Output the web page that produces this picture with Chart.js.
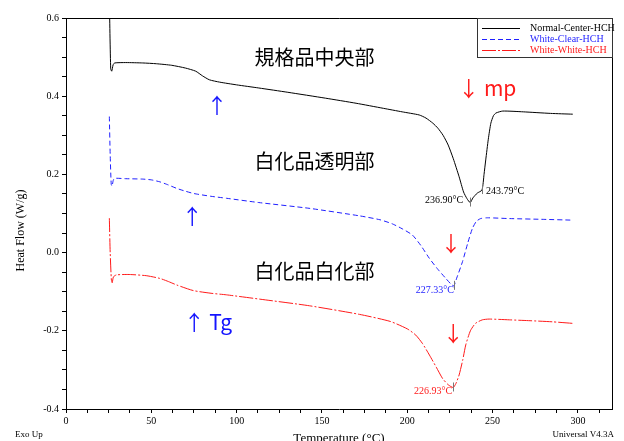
<!DOCTYPE html>
<html>
<head>
<meta charset="utf-8">
<script src="https://cdn.jsdelivr.net/npm/chart.js@4.4.1/dist/chart.umd.min.js"></script>
<style>
  html, body { margin: 0; padding: 0; background: #fff; }
  #wrap { width: 624px; height: 441px; }
</style>
</head>
<body>
<div id="wrap"><canvas id="dsc-chart" width="624" height="441"></canvas></div>
<script>
// Temperature (°C) / heat flow (W/g)
const normalTemp = [25.4, 26.2, 26.8, 27.6, 28.5, 35, 45, 53, 62, 70, 76, 80, 84, 90, 100, 113, 130, 152, 170, 186, 197, 207, 211, 215, 218, 221, 224, 227, 230.4, 233, 235, 236.9, 238.5, 241, 243.8, 245, 246, 247.5, 249, 250.5, 252, 256, 268, 284, 297];
const normalFlow = [0.65, 0.47, 0.464, 0.48, 0.485, 0.486, 0.485, 0.483, 0.479, 0.472, 0.464, 0.452, 0.442, 0.436, 0.429, 0.421, 0.41, 0.395, 0.382, 0.369, 0.36, 0.352, 0.344, 0.331, 0.318, 0.3, 0.275, 0.24, 0.194, 0.155, 0.138, 0.128, 0.14, 0.152, 0.16, 0.2, 0.237, 0.29, 0.331, 0.35, 0.357, 0.362, 0.36, 0.356, 0.354];

const clearTemp = [25.4, 25.9, 26.5, 27, 27.7, 28.5, 35, 45, 50, 55, 60, 65, 70, 75, 85, 94, 113, 143, 172, 184, 191, 197, 203, 208, 213, 218, 222.6, 225.5, 227.3, 229, 232.4, 235.5, 238.2, 240.5, 243, 247, 260, 280, 297];
const clearFlow = [0.348, 0.25, 0.175, 0.17, 0.185, 0.19, 0.189, 0.188, 0.186, 0.181, 0.173, 0.164, 0.157, 0.151, 0.144, 0.139, 0.128, 0.113, 0.094, 0.084, 0.074, 0.061, 0.045, 0.018, -0.015, -0.043, -0.066, -0.08, -0.085, -0.065, -0.023, 0.025, 0.062, 0.08, 0.087, 0.089, 0.087, 0.085, 0.083];

const whiteTemp = [25.4, 25.9, 26.6, 27.1, 27.8, 29.6, 37, 47, 55, 60, 65, 74.5, 85, 94, 113.5, 142.7, 172, 190, 200, 205, 209, 213, 217, 220.7, 224, 226.9, 228.5, 230.4, 232.5, 234.3, 237, 240, 244, 248, 260, 271, 285, 297];
const whiteFlow = [0.088, 0.0, -0.07, -0.077, -0.062, -0.057, -0.056, -0.059, -0.066, -0.074, -0.083, -0.097, -0.104, -0.108, -0.119, -0.136, -0.158, -0.176, -0.195, -0.211, -0.233, -0.262, -0.293, -0.322, -0.338, -0.345, -0.335, -0.313, -0.275, -0.236, -0.2, -0.181, -0.172, -0.17, -0.172, -0.174, -0.177, -0.181];

const seriesNames = ['Normal-Center-HCH', 'White-Clear-HCH', 'White-White-HCH'];
const seriesColors = ['#000000', '#1f1fff', '#ff1a1a'];

// axis ticks
const xTickLabels = [0, 50, 100, 150, 200, 250, 300];
const yTickLabels = [-0.4, -0.2, 0.0, 0.2, 0.4, 0.6];
const xMinorStep = 12.5;
const yMinorStep = 0.05;

// peak temperature labels
const peakTemps = [236.90, 243.79, 227.33, 226.93];
const peakFlows = [0.128, 0.160, -0.085, -0.345];
const peakColors = ['#000000', '#000000', '#1f1fff', '#ff1a1a'];

// sample names and arrows
const sampleTitles = ['規格品中央部', '白化品透明部', '白化品白化部'];
const sampleTitleTemps = [145.6, 145.6, 145.6];
const sampleTitleFlows = [0.499, 0.233, -0.047];

const tgArrows = ['↑', '↑', '↑ Tg'];
const tgArrowTemps = [88.5, 74, 71.3];
const tgArrowFlows = [0.378, 0.094, -0.178];

const mpArrows = ['↓ mp', '↓', '↓'];
const mpArrowTemps = [232.2, 225.6, 227];
const mpArrowFlows = [0.421, 0.025, -0.206];

function toPoints(xs, ys) {
    return xs.map((x, i) => ({ x: x, y: ys[i] }));
}

function stepTicks(min, max, step) {
    const out = [];
    for (let v = min; v <= max + 1e-9; v += step) out.push({ value: Math.round(v * 1000) / 1000 });
    return out;
}

const serif = '"Liberation Serif", "DejaVu Serif", serif';
const jpFont = '"Noto Sans CJK JP", "Noto Sans", sans-serif';

// arrow / text helper: single arrows are centred, "↑ Tg" style starts at the point
function drawArrowText(ctx, s, px, py) {
    ctx.textAlign = s.length > 1 ? 'left' : 'center';
    ctx.fillText(s, s.length > 1 ? px - 4 : px, py);
}

// extra drawing: frame, legend, annotations
const decorations = {
    id: 'decorations',
    afterDraw(chart) {
        const { ctx, chartArea: a, scales: { x, y } } = chart;
        ctx.save();

        // top and right frame
        ctx.strokeStyle = '#000';
        ctx.lineWidth = 1;
        ctx.beginPath();
        ctx.moveTo(a.left, a.top + 0.5);
        ctx.lineTo(a.right + 0.5, a.top + 0.5);
        ctx.lineTo(a.right + 0.5, a.bottom);
        ctx.stroke();

        // legend box in the top-right corner
        const lx = a.right - 135, ly = a.top;
        ctx.fillStyle = '#fff';
        ctx.fillRect(lx, ly, 135, 39);
        ctx.strokeStyle = '#333';
        ctx.strokeRect(lx + 0.5, ly + 0.5, 135, 39);
        chart.data.datasets.forEach((ds, i) => {
            const yy = ly + 10.5 + i * 11;
            ctx.strokeStyle = ds.borderColor;
            ctx.lineWidth = 1;
            ctx.setLineDash(ds.borderDash || []);
            ctx.beginPath();
            ctx.moveTo(lx + 5, yy);
            ctx.lineTo(lx + 43, yy);
            ctx.stroke();
            ctx.setLineDash([]);
            ctx.fillStyle = ds.borderColor;
            ctx.font = '10px ' + serif;
            ctx.textAlign = 'left';
            ctx.textBaseline = 'middle';
            ctx.fillText(ds.label, lx + 53, yy);
        });

        // peak markers and labels
        ctx.font = '10px ' + serif;
        ctx.textBaseline = 'middle';
        const offs = [[-7, -2, 'right'], [4, 1, 'left'], [0, 5, 'right'], [-1, 4, 'right']];
        peakTemps.forEach((t, i) => {
            const px = x.getPixelForValue(t), py = y.getPixelForValue(peakFlows[i]);
            ctx.strokeStyle = '#777';
            ctx.beginPath();
            ctx.moveTo(Math.round(px) + 0.5, py - 5);
            ctx.lineTo(Math.round(px) + 0.5, py + 4);
            ctx.stroke();
            ctx.fillStyle = peakColors[i];
            ctx.textAlign = offs[i][2];
            ctx.fillText(t.toFixed(2) + '°C', px + offs[i][0], py + offs[i][1]);
        });

        // sample titles
        ctx.fillStyle = '#000';
        ctx.font = '20px ' + jpFont;
        ctx.textAlign = 'center';
        sampleTitles.forEach((s, i) => {
            ctx.fillText(s, x.getPixelForValue(sampleTitleTemps[i]), y.getPixelForValue(sampleTitleFlows[i]));
        });

        // Tg arrows (blue), mp arrows (red)
        ctx.font = '21px ' + jpFont;
        ctx.fillStyle = '#1414ff';
        tgArrows.forEach((s, i) => {
            drawArrowText(ctx, s, x.getPixelForValue(tgArrowTemps[i]), y.getPixelForValue(tgArrowFlows[i]));
        });
        ctx.fillStyle = '#ff1a1a';
        mpArrows.forEach((s, i) => {
            drawArrowText(ctx, s, x.getPixelForValue(mpArrowTemps[i]), y.getPixelForValue(mpArrowFlows[i]));
        });

        // axis titles and footer text
        ctx.fillStyle = '#000';
        ctx.font = '13px ' + serif;
        ctx.textAlign = 'center';
        ctx.textBaseline = 'top';
        ctx.fillText('Temperature (°C)', (a.left + a.right) / 2, a.bottom + 23);
        ctx.font = '9px ' + serif;
        ctx.textAlign = 'left';
        ctx.textBaseline = 'middle';
        ctx.fillText('Exo Up', 15, a.bottom + 26);
        ctx.textAlign = 'right';
        ctx.fillText('Universal V4.3A', a.right + 2, a.bottom + 26);

        ctx.save();
        ctx.translate(21, (a.top + a.bottom) / 2 + 17);
        ctx.rotate(-Math.PI / 2);
        ctx.font = '12px ' + serif;
        ctx.textAlign = 'center';
        ctx.textBaseline = 'middle';
        ctx.fillText('Heat Flow (W/g)', 0, 0);
        ctx.restore();

        ctx.restore();
    }
};

new Chart(document.getElementById('dsc-chart').getContext('2d'), {
    type: 'line',
    data: {
        datasets: [{
            label: seriesNames[0],
            data: toPoints(normalTemp, normalFlow),
            borderColor: seriesColors[0],
            borderWidth: 1,
            pointRadius: 0,
            tension: 0.2
        }, {
            label: seriesNames[1],
            data: toPoints(clearTemp, clearFlow),
            borderColor: seriesColors[1],
            borderWidth: 1,
            borderDash: [5, 3],
            pointRadius: 0,
            tension: 0.2
        }, {
            label: seriesNames[2],
            data: toPoints(whiteTemp, whiteFlow),
            borderColor: seriesColors[2],
            borderWidth: 1,
            borderDash: [14, 2, 2, 2],
            pointRadius: 0,
            tension: 0.2
        }]
    },
    options: {
        responsive: false,
        animation: false,
        parsing: false,
        layout: { padding: { left: 0, top: 18, right: 12, bottom: 0 } },
        plugins: { legend: { display: false }, tooltip: { enabled: false } },
        scales: {
            x: {
                type: 'linear',
                min: 0,
                max: 320,
                afterBuildTicks: scale => { scale.ticks = stepTicks(0, 320, xMinorStep); },
                afterFit: scale => { scale.height = 32; },
                grid: { drawOnChartArea: false, drawTicks: true, tickLength: 4, tickColor: '#000' },
                border: { display: true, color: '#000', width: 1 },
                ticks: {
                    autoSkip: false,
                    maxRotation: 0,
                    padding: 2,
                    color: '#000',
                    font: { family: serif, size: 10 },
                    callback: v => xTickLabels.includes(v) ? String(v) : ''
                }
            },
            y: {
                type: 'linear',
                min: -0.4,
                max: 0.6,
                afterBuildTicks: scale => { scale.ticks = stepTicks(-0.4, 0.6, yMinorStep); },
                afterFit: scale => { scale.width = 66; },
                grid: { drawOnChartArea: false, drawTicks: true, tickLength: 4, tickColor: '#000' },
                border: { display: true, color: '#000', width: 1 },
                ticks: {
                    autoSkip: false,
                    padding: 3,
                    color: '#000',
                    font: { family: serif, size: 10 },
                    callback: v => yTickLabels.some(t => Math.abs(t - v) < 1e-6) ? v.toFixed(1) : ''
                }
            }
        }
    },
    plugins: [decorations]
});
</script>
</body>
</html>
